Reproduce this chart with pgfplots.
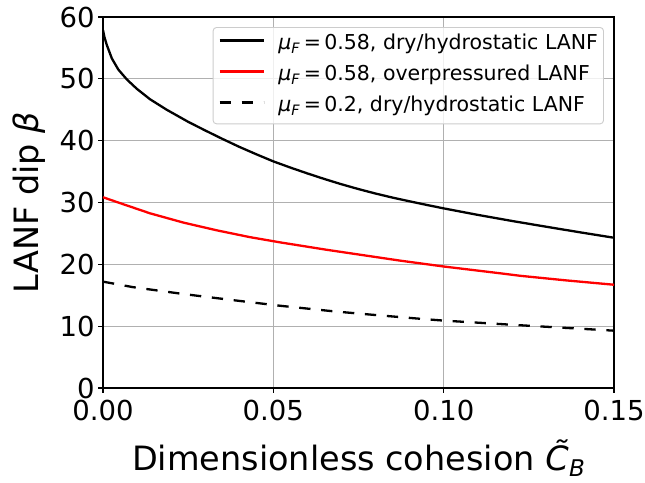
\documentclass[border=0pt]{standalone}
\usepackage{fontspec}
\setmainfont{DejaVu Sans}
\usepackage{pgfplots}
\pgfplotsset{compat=1.18}
\definecolor{gridgray}{HTML}{B0B0B0}
\definecolor{legedge}{HTML}{CCCCCC}
\begin{document}
\begin{tikzpicture}
\begin{axis}[
  at={(0,0)}, anchor=south west,
  scale only axis, width=511bp, height=371bp,
  xmin=0, xmax=0.15, ymin=0, ymax=60,
  xtick={0,0.05,0.1,0.15}, ytick={0,10,20,30,40,50,60},
  grid=major, major grid style={line width=0.8bp, color=gridgray},
  axis line style={line width=1.1bp},
  tick style={line width=1.1bp, black},
  tick align=outside, major tick length=4.9bp,
  xtick pos=bottom, ytick pos=left,
  scaled x ticks=false,
  /pgf/number format/assume math mode=true,
  xticklabel style={/pgf/number format/fixed, /pgf/number format/fixed zerofill, /pgf/number format/precision=2, yshift=-4bp},
  ticklabel style={font=\fontsize{27.5bp}{32bp}\selectfont},
  xlabel={Dimensionless cohesion \textit{\~{C}}\raisebox{-6bp}{\fontsize{23bp}{26bp}\selectfont\textit{B}}},
  ylabel={LANF dip \textit{β}},
  label style={font=\fontsize{33.5bp}{38bp}\selectfont, inner sep=0pt},
  xlabel style={at={(axis description cs:0.5,-0.2237)}, anchor=base},
  ylabel style={at={(axis description cs:-0.1272,0.5)}, anchor=base, rotate=0},
  legend cell align=left,
  legend style={at={(axis description cs:0.9804,0.973)}, anchor=north east,
    draw=legedge, line width=0.9bp, rounded corners=3.5bp,
    fill=white, fill opacity=0.8, text opacity=1, draw opacity=1,
    font=\fontsize{20.5bp}{24bp}\selectfont,
    inner xsep=5.5bp, inner ysep=7bp, row sep=10.6bp, column sep=13.5bp,
    nodes={inner sep=0pt, text height=15.2bp, text depth=5.2bp, anchor=west}},
  legend image code/.code={\draw[#1] (0bp,4.2bp) -- (44bp,4.2bp);},
]
\addplot[black, line width=2.3bp] coordinates {
(0,57.9) (0.0004,56.8) (0.0011,55.5) (0.0026,53.3) (0.0045,51.5) (0.007,49.9)
(0.0099,48.4) (0.0138,46.7) (0.0187,45.0) (0.025,43.05) (0.03,41.65) (0.035,40.3)
(0.04,39.0) (0.045,37.8) (0.05,36.65) (0.055,35.65) (0.06,34.7) (0.065,33.8)
(0.07,32.95) (0.075,32.17) (0.08,31.45) (0.085,30.79) (0.09,30.19) (0.095,29.61)
(0.1,29.05) (0.11,28.0) (0.12,27.02) (0.13,26.09) (0.14,25.18) (0.15,24.3)
};
\addlegendentry{\textit{μ}\textsubscript{\textit{F}}\,=\,0.58, dry/hydrostatic LANF}
\addplot[red, line width=2.3bp] coordinates {
(0,30.85) (0.005,29.9) (0.0138,28.25) (0.0236,26.75) (0.0334,25.5) (0.0431,24.4)
(0.052,23.55) (0.0657,22.35) (0.0872,20.6) (0.1,19.65) (0.1166,18.55) (0.1224,18.15)
(0.136,17.4) (0.15,16.7)
};
\addlegendentry{\textit{μ}\textsubscript{\textit{F}}\,=\,0.58, overpressured LANF}
\addplot[black, line width=2.3bp, dash pattern=on 11.3bp off 10.7bp] coordinates {
(0,17.2) (0.0089,16.3) (0.0236,15.2) (0.0383,14.2) (0.052,13.3) (0.0677,12.4)
(0.08,11.8) (0.093,11.2) (0.1,10.9) (0.1224,10.15) (0.15,9.27)
};
\addlegendentry{\textit{μ}\textsubscript{\textit{F}}\,=\,0.2, dry/hydrostatic LANF}
\end{axis}
\pgfresetboundingbox
\path (-103bp,-95bp) rectangle (542bp,388bp);
\end{tikzpicture}
\end{document}
